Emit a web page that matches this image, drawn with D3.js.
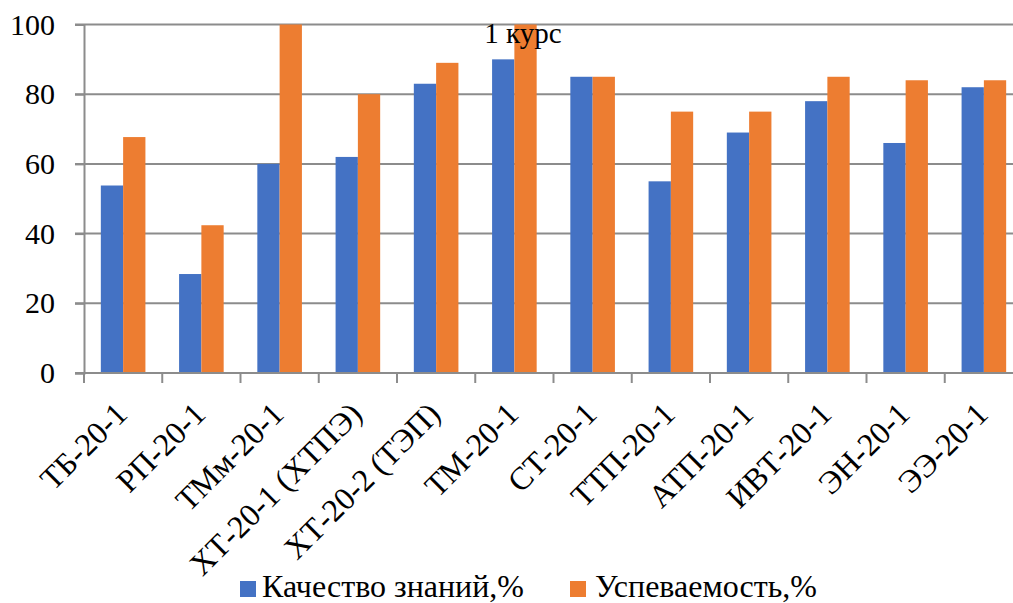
<!DOCTYPE html>
<html>
<head>
<meta charset="utf-8">
<script src="https://cdn.jsdelivr.net/npm/d3@7"></script>
<style>
  html, body { margin: 0; padding: 0; background: #fff; }
  svg { display: block; }
</style>
</head>
<body>
<svg id="chart" width="1013" height="603"></svg>
<script>
const categories = ["ТБ-20-1", "РП-20-1", "ТМм-20-1", "ХТ-20-1 (ХТПЭ)", "ХТ-20-2 (ТЭП)", "ТМ-20-1", "СТ-20-1", "ТТП-20-1", "АТП-20-1", "ИВТ-20-1", "ЭН-20-1", "ЭЭ-20-1"];
const quality = [53.8, 28.4, 60, 62, 83, 90, 85, 55, 69, 78, 66, 82];
const progress = [67.7, 42.4, 100, 80, 89, 100, 85, 75, 75, 85, 84, 84];
const seriesNames = ["Качество знаний,%", "Успеваемость,%"];
const yTicks = [0, 20, 40, 60, 80, 100];
const title = "1 курс";

const FONT = "Liberation Serif";
const colors = ["#4472C4", "#ED7D31"];
const svg = d3.select("#chart");

const mLeft = 84, mRight = 1023, mTop = 24.5, mBottom = 373;

const x = d3.scaleBand().domain(categories).range([mLeft, mRight]).paddingInner(0).paddingOuter(0);
const xs = d3.scaleBand().domain([0, 1]).range([0, x.bandwidth()]).paddingInner(0).paddingOuter(0.755);
const y = d3.scaleLinear().domain([0, 100]).range([mBottom, mTop]);

// gridlines
svg.append("g").selectAll("line").data(yTicks.filter(d => d > 0)).join("line")
  .attr("x1", mLeft - 9).attr("x2", 1013)
  .attr("y1", d => y(d)).attr("y2", d => y(d))
  .attr("stroke", "#8c8c8c").attr("stroke-width", 2);

// y axis
const yAxis = svg.append("g").attr("transform", `translate(${mLeft},0)`)
  .call(d3.axisLeft(y).tickValues(yTicks).tickSize(9).tickPadding(20));
yAxis.attr("font-family", FONT).attr("font-size", 30);
yAxis.select(".domain").attr("stroke", "#8c8c8c").attr("stroke-width", 2);
yAxis.selectAll(".tick line").attr("stroke", "#8c8c8c").attr("stroke-width", 2);
yAxis.selectAll(".tick text").attr("font-size", 30).attr("font-family", FONT).attr("fill", "#000");

// bars
const data = categories.map((c, i) => ({ c, vals: [quality[i], progress[i]] }));
const groups = svg.append("g").selectAll("g").data(data).join("g")
  .attr("transform", d => `translate(${x(d.c)},0)`);
groups.selectAll("rect").data(d => d.vals.map((v, k) => ({ v, k }))).join("rect")
  .attr("x", d => xs(d.k)).attr("width", xs.bandwidth())
  .attr("y", d => y(d.v)).attr("height", d => y(0) - y(d.v))
  .attr("fill", d => colors[d.k]);

// x axis
const xTickPos = categories.map(c => x(c)).concat([mRight]);
svg.append("g").selectAll("line").data(xTickPos).join("line")
  .attr("x1", d => d).attr("x2", d => d)
  .attr("y1", mBottom).attr("y2", mBottom + 10)
  .attr("stroke", "#8c8c8c").attr("stroke-width", 2);
svg.append("line").attr("x1", mLeft - 9).attr("x2", 1013).attr("y1", mBottom).attr("y2", mBottom)
  .attr("stroke", "#8c8c8c").attr("stroke-width", 2);

svg.append("g").selectAll("text").data(categories).join("text")
  .attr("transform", d => `translate(${x(d) + x.bandwidth() / 2 + 6},${mBottom + 43}) rotate(-45)`)
  .attr("text-anchor", "end")
  .attr("font-family", FONT)
  .attr("font-size", 32)
  .attr("fill", "#000")
  .text(d => d);

// title
svg.append("text").attr("x", 523).attr("y", 43).attr("text-anchor", "middle")
  .attr("font-family", FONT).attr("font-size", 29).attr("fill", "#000").text(title);

// legend
const legendX = [240, 570];
const lg = svg.append("g").selectAll("g").data(seriesNames).join("g")
  .attr("transform", (d, i) => `translate(${legendX[i]},0)`);
lg.append("rect").attr("x", 0).attr("y", 581).attr("width", 16).attr("height", 16)
  .attr("fill", (d, i) => colors[i]);
lg.append("text").attr("x", (d, i) => i === 0 ? 22 : 25).attr("y", 597).attr("font-family", FONT).attr("font-size", 32)
  .attr("fill", "#000").text(d => d);
</script>
</body>
</html>
